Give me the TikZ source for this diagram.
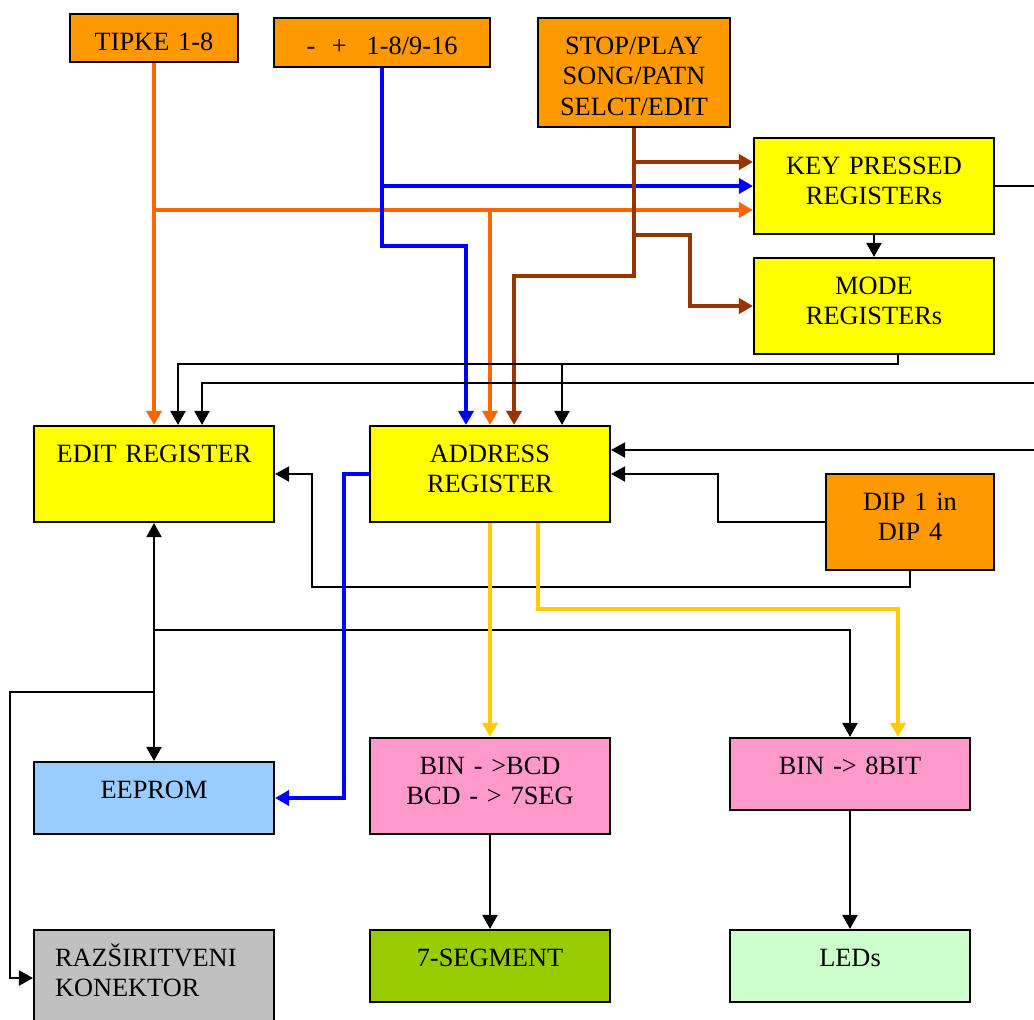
\documentclass[tikz,border=0pt]{standalone}
\usepackage{fontspec}
\setmainfont{Liberation Serif}
\usetikzlibrary{arrows.meta}
\definecolor{boxorange}{HTML}{FF9900}
\definecolor{boxyellow}{HTML}{FFFF00}
\definecolor{boxblue}{HTML}{99CCFF}
\definecolor{boxpink}{HTML}{FF99CC}
\definecolor{boxgreen}{HTML}{99CC00}
\definecolor{boxmint}{HTML}{CCFFCC}
\definecolor{boxgray}{HTML}{C0C0C0}
\definecolor{wireorange}{HTML}{FF6600}
\definecolor{wirebrown}{HTML}{993300}
\definecolor{wireyellow}{HTML}{FFCC00}
\begin{document}
\begin{tikzpicture}[x=0.02cm,y=-0.02cm,
  blk/.style={draw,line width=1.2pt,inner sep=0pt,align=center,text width=4.8cm,
    text height=0.72cm,text depth=1.2cm,font=\fontsize{15}{17.6}\selectfont},
  low/.style={text depth=0.72cm},
  wire/.style={line width=1.1pt,-{Triangle[length=0.28cm,width=0.3cm]}},
  owire/.style={wire,wireorange,line width=2.1pt},
  bwire/.style={wire,blue,line width=2.7pt},
  brwire/.style={wire,wirebrown,line width=2.1pt},
  ywire/.style={wire,wireyellow,line width=2.1pt}]
\useasboundingbox (0,0) rectangle (1034,1019);
\clip (0,0) rectangle (1034,1019);
\node[blk,fill=boxorange,text width=3.36cm,text depth=0.24cm] (tipke) at (154,38) {TIPKE 1-8};
\node[blk,fill=boxorange,text width=4.32cm,text depth=0.26cm] (plusminus) at (382,42.5) {-\hspace{0.33cm}+\hspace{0.4cm}1-8/9-16\hspace{0.4cm}};
\node[blk,fill=boxorange,text width=3.84cm,text depth=1.46cm] (stop) at (634,72.5) {STOP/PLAY\\SONG/PATN\\SELCT/EDIT};
\node[blk,fill=boxyellow] (key) at (874,186) {KEY PRESSED\\REGISTERs};
\node[blk,fill=boxyellow] (mode) at (874,306) {MODE\\REGISTERs};
\node[blk,fill=boxyellow] (edit) at (154,474) {EDIT REGISTER};
\node[blk,fill=boxyellow] (addr) at (490,474) {ADDRESS\\REGISTER};
\node[blk,fill=boxorange,text width=3.36cm] (dip) at (910,522) {DIP 1 in\\DIP 4};
\node[blk,fill=boxblue,low] (eeprom) at (154,798) {EEPROM};
\node[blk,fill=boxpink] (bcd) at (490,786) {BIN - >BCD\\BCD - > 7SEG};
\node[blk,fill=boxpink,low] (bin8) at (850,774) {BIN -> 8BIT};
\node[blk,fill=boxgray,align=left,text width=3.96cm,inner xsep=0.42cm] (konektor) at (154,978) {RAZŠIRITVENI\\KONEKTOR};
\node[blk,fill=boxgreen,low] (seg) at (490,966) {7-SEGMENT};
\node[blk,fill=boxmint,low] (leds) at (850,966) {LEDs};

\coordinate (tj) at (154,210);
\coordinate (bj) at (382,186);
\draw[owire] (tipke.south) -- (edit.north);
\draw[owire] (tj) -- (tj -| key.west);
\draw[owire] (tj -| addr.north) -- (addr.north);
\draw[bwire] (plusminus.south) -- (bj) -- (bj -| key.west);
\draw[bwire] (bj) -- (382,246) -| ([xshift=-0.48cm]addr.north);
\draw[brwire] (stop.south) |- ([yshift=0.48cm]key.west);
\draw[brwire] (stop.south) -- (634,276) -| ([xshift=0.48cm]addr.north);
\draw[brwire] (634,235) -- (690,235) |- (mode.west);

\draw[wire] (key) -- (mode);
\draw[wire] ([xshift=0.48cm]mode.south) -- ++(0,9) -| ([xshift=0.48cm]edit.north);
\draw[wire] (562,363) -- ([xshift=1.44cm]addr.north);
\draw[line width=1.1pt] (key.east) -- (1040,186);
\draw[wire] (1040,383) -| ([xshift=0.96cm]edit.north);
\draw[wire] (1040,450) -- ([yshift=0.48cm]addr.east);
\draw[wire] (dip.west) -- (718,522) |- (addr.east);
\draw[wire] (dip.south) -- ++(0,16) -| (312,474) -- (edit.east);
\draw[wire,{Triangle[length=0.28cm,width=0.3cm]}-{Triangle[length=0.28cm,width=0.3cm]}] (edit.south) -- (eeprom.north);
\draw[wire] (154,630) -| (bin8.north);
\draw[wire] (154,692) -| (10,978) -- (konektor.west);
\draw[bwire] (addr.west) -- (344,474) |- (eeprom.east);
\draw[ywire] (addr.south) -- (bcd.north);
\draw[ywire] ([xshift=0.96cm]addr.south) -- ++(0,86) -| ([xshift=0.96cm]bin8.north);
\draw[wire] (bcd) -- (seg);
\draw[wire] (bin8) -- (leds);
\end{tikzpicture}
\end{document}
